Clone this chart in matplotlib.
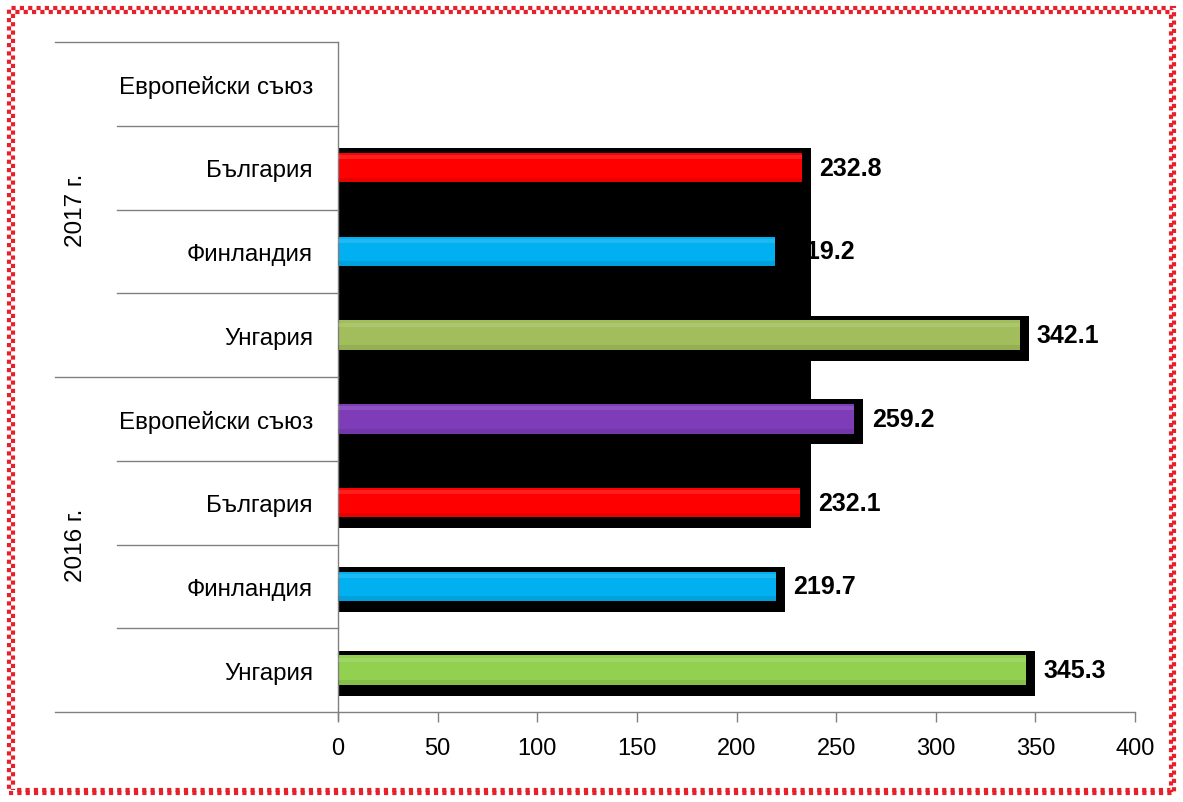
import matplotlib
matplotlib.use('Agg')
import matplotlib.pyplot as plt
from matplotlib.patches import Rectangle
from matplotlib.lines import Line2D
import matplotlib.transforms as mtransforms

# ---- data ----
years = ['2016 г.', '2017 г.']
countries = ['Унгария', 'Финландия', 'България', 'Европейски съюз']
values_2016 = [345.3, 219.7, 232.1, 259.2]
values_2017 = [342.1, 219.2, 232.8, None]
colors_2016 = ['#92D050', '#00B0F0', '#FF0000', '#7E3CB8']
colors_2017 = ['#A2BE5C', '#00B0F0', '#FF0000', '#7E3CB8']
xticks = [0, 50, 100, 150, 200, 250, 300, 350, 400]

plt.rcParams['font.family'] = ['Liberation Sans', 'DejaVu Sans']

W, H = 1183, 803
fig = plt.figure(figsize=(W / 100, H / 100), dpi=100)
fig.patch.set_facecolor('white')
ax = fig.add_axes([338 / W, 1 - 713 / H, (1135 - 338) / W, (713 - 43) / H])
ax.set_facecolor('none')

labels = countries + countries
values = values_2016 + values_2017
colors = colors_2016 + colors_2017
n = len(labels)
ys = list(range(n))

bar_h = 0.35
sh_top = 0.233
sh_bot = 0.304
sh_right = 4.5

# merged black block (shadow artefact) around the Bulgaria bars
bg_idx = [i for i, l in enumerate(labels) if l == 'България']
blk_w = max(values[i] for i in bg_idx) + sh_right
blk_y0 = min(bg_idx) - sh_bot
blk_y1 = max(bg_idx) + sh_top
ax.add_patch(Rectangle((0, blk_y0), blk_w, blk_y1 - blk_y0, facecolor='black',
                       edgecolor='none', zorder=1))

for y, v, c in zip(ys, values, colors):
    if v is None:
        continue
    # shadow
    ax.add_patch(Rectangle((0, y - sh_bot), v + sh_right, sh_top + sh_bot,
                           facecolor='black', edgecolor='none', zorder=1))
    # bar
    ax.barh(y, v, height=bar_h, color=c, edgecolor='none', zorder=2)
    # soft highlight / shade
    ax.barh(y + bar_h * 0.36, v, height=bar_h * 0.14, color='white', alpha=0.12,
            edgecolor='none', zorder=3)
    ax.barh(y - bar_h * 0.42, v, height=bar_h * 0.16, color='black', alpha=0.08,
            edgecolor='none', zorder=3)
    ax.text(v + sh_right + 4.2, y, f'{v:.1f}', ha='left', va='center',
            fontsize=18, fontweight='bold', color='black', zorder=0.5,
            family=['Liberation Sans Narrow', 'Liberation Sans', 'DejaVu Sans'],
            clip_on=False)

ax.set_xlim(0, 400)
ax.set_ylim(-0.5, n - 0.5)
ax.set_xticks(xticks)
ax.set_xticklabels([str(t) for t in xticks], fontsize=17)
ax.set_yticks(ys)
ax.set_yticklabels(labels, fontsize=17.4)
ax.tick_params(axis='y', length=0, pad=18)
ax.tick_params(axis='x', length=7, width=1, color='#808080', pad=11)

for s in ['top', 'right']:
    ax.spines[s].set_visible(False)
for s in ['left', 'bottom']:
    ax.spines[s].set_color('#808080')
    ax.spines[s].set_linewidth(1)

# separator lines on the category axis
trans = mtransforms.blended_transform_factory(ax.transAxes, ax.transData)
x_long = (55 - 338) / (1135 - 338)
x_short = (117 - 338) / (1135 - 338)
group_size = len(countries)
for k in range(n + 1):
    yb = k - 0.5
    xs = x_long if k % group_size == 0 else x_short
    ax.add_line(Line2D([xs, 0], [yb, yb], transform=trans, color='#808080',
                       lw=1, clip_on=False))
ax.spines['left'].set_bounds(-0.5 - 0.1, n - 0.5)

# year labels
x_year = (76 - 338) / (1135 - 338)
for g, yr in enumerate(years):
    yc = g * group_size + (group_size - 1) / 2
    ax.text(x_year, yc, yr, transform=trans, rotation=90, ha='center',
            va='center', fontsize=17.5, clip_on=False)

# decorative dotted red frame
def frame(inset, offset):
    r = Rectangle((inset / W, inset / H), 1 - 2 * inset / W, 1 - 2 * inset / H,
                  transform=fig.transFigure, facecolor='none', edgecolor='#E8202A',
                  lw=3, linestyle=(offset, (1, 1)), zorder=10)
    fig.patches.append(r)

frame(9, 0)
frame(12.5, 1)

fig.savefig('out.png', dpi=100)
